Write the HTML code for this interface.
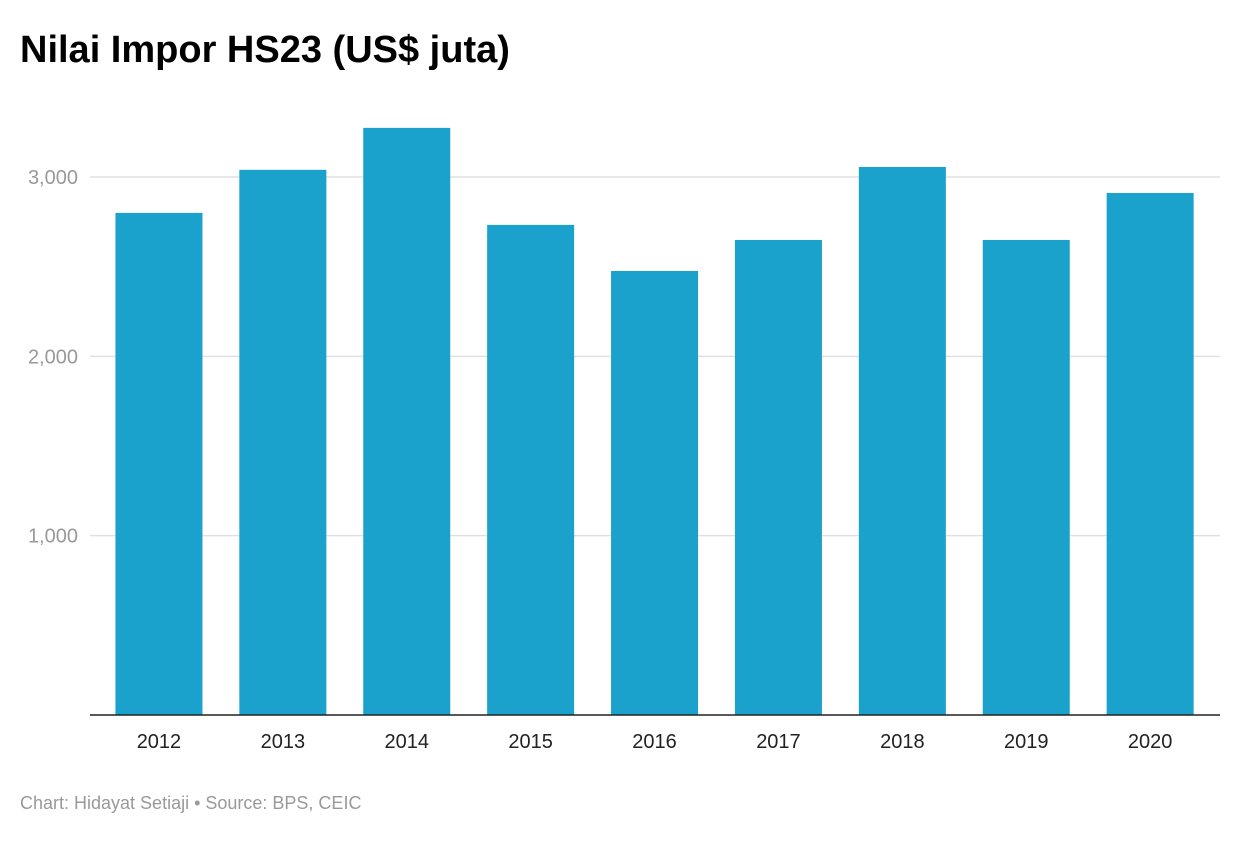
<!DOCTYPE html>
<html><head><meta charset="utf-8"><style>
body{margin:0;background:#fff;width:1240px;height:840px;overflow:hidden;font-family:"Liberation Sans",sans-serif}
</style></head><body>
<svg width="1240" height="840" xmlns="http://www.w3.org/2000/svg">
<text x="20" y="62" font-size="38" font-weight="bold" fill="#000">Nilai Impor HS23 (US$ juta)</text>
<g id="grid"></g><g id="bars"></g><g id="xlabels"></g>
<line x1="90" x2="1220" y1="715" y2="715" stroke="#222" stroke-width="1.5"/>
<text x="20" y="809" font-size="18" fill="#999">Chart: Hidayat Setiaji • Source: BPS, CEIC</text>
</svg>
<script>
const categories=["2012","2013","2014","2015","2016","2017","2018","2019","2020"];
const values=[2800,3040,3274,2733,2476,2649,3056,2649,2911];
const yTicks=[1000,2000,3000];
const yTickLabels=["1,000","2,000","3,000"];
const NS="http://www.w3.org/2000/svg";
const y0=715, pxPer=0.17933;
function y(v){return y0-v*pxPer;}
const left=97, band=123.9, bw=87;
function xc(i){return left+band*(i+0.5);}
const grid=document.getElementById('grid');
yTicks.forEach((t,i)=>{
 const l=document.createElementNS(NS,'line');
 l.setAttribute('x1',90);l.setAttribute('x2',1220);l.setAttribute('y1',y(t));l.setAttribute('y2',y(t));
 l.setAttribute('stroke','#e0e0e0');l.setAttribute('stroke-width','1.5');
 
 
 grid.appendChild(l);
 const tx=document.createElementNS(NS,'text');
 tx.setAttribute('x',78);tx.setAttribute('y',y(t)+7);tx.setAttribute('text-anchor','end');
 tx.setAttribute('font-size','20');tx.setAttribute('fill','#999');
 tx.textContent=yTickLabels[i];
 
 
 grid.appendChild(tx);
});
const bars=document.getElementById('bars'), xl=document.getElementById('xlabels');
categories.forEach((c,i)=>{
 const r=document.createElementNS(NS,'rect');
 r.setAttribute('x',xc(i)-bw/2);r.setAttribute('y',y(values[i]));r.setAttribute('width',bw);r.setAttribute('height',y0-y(values[i]));
 r.setAttribute('fill','#1aa1cc');
 
 
 bars.appendChild(r);
 const t=document.createElementNS(NS,'text');
 t.setAttribute('x',xc(i));t.setAttribute('y',748);t.setAttribute('text-anchor','middle');
 t.setAttribute('font-size','20');t.setAttribute('fill','#222');
 t.textContent=c;
 
 
 xl.appendChild(t);
});
</script>
</body></html>
